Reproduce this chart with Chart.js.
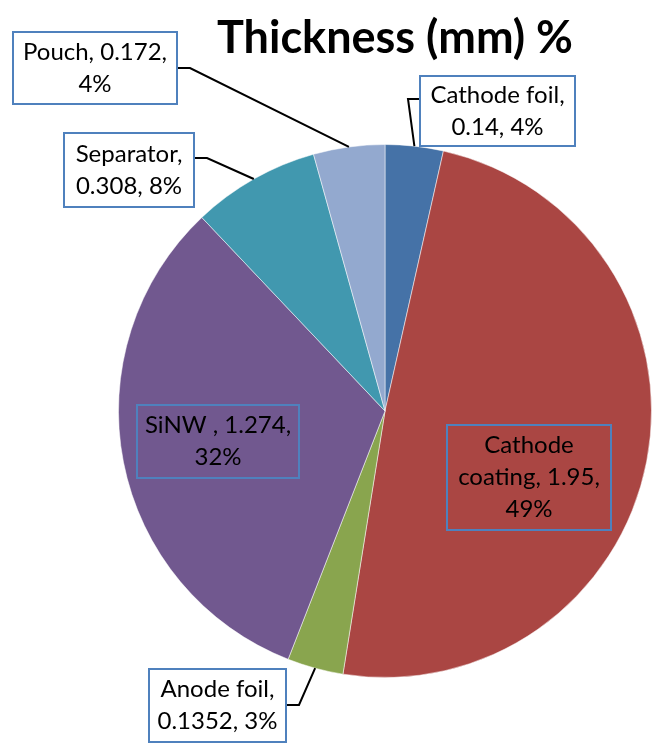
<!DOCTYPE html>
<html>
<head>
<meta charset="utf-8">
<script src="https://cdn.jsdelivr.net/npm/chart.js@4"></script>
<style>
  html, body { margin: 0; padding: 0; background: #fff; }
</style>
</head>
<body>
<canvas id="myChartpie" width="664" height="746"></canvas>
<script>
// Dati del grafico
var categories = ['Cathode foil', 'Cathode coating', 'Anode foil', 'SiNW ', 'Separator', 'Pouch'];
var thickness = [0.14, 1.95, 0.1352, 1.274, 0.308, 0.172];
var percentLabels = ['4%', '49%', '3%', '32%', '8%', '4%'];
var sliceColors = ['#4572A7', '#AA4643', '#89A54E', '#71588F', '#4198AF', '#93A9CF'];
var chartTitle = 'Thickness (mm) %';

// posizione delle etichette rispetto al centro della torta (px)
// box: [left, top, right, bottom], words: parole per riga, lead: y del connettore
var labelLayout = [
  { box: [35, -335, 190, -265], words: [2, 2], fill: '#fff', lead: -312 },
  { box: [62, 14, 226, 119], words: [1, 2, 1], fill: null },
  { box: [-236, 258, -99, 331], words: [2, 2], fill: '#fff', lead: 294 },
  { box: [-248, -6, -86, 67], words: [3, 1], fill: null },
  { box: [-321, -278, -191, -204], words: [1, 2], fill: '#fff', lead: -253 },
  { box: [-372, -379, -208, -307], words: [2, 1], fill: '#fff', lead: -343 }
];

var labelFont = '24px Lato';
var lineHeight = 32;

var labelPlugin = {
  id: 'excelLabels',
  afterDraw: function (chart) {
    var ctx = chart.ctx;
    var meta = chart.getDatasetMeta(0);

    // titolo
    ctx.save();
    ctx.fillStyle = '#000';
    ctx.font = 'bold 45px Lato';
    ctx.textAlign = 'center';
    ctx.textBaseline = 'alphabetic';
    ctx.fillText(chartTitle, 395, 53);
    ctx.restore();

    meta.data.forEach(function (arc, i) {
      var lay = labelLayout[i];
      var cx = arc.x, cy = arc.y;
      var l = cx + lay.box[0], t = cy + lay.box[1];
      var r = cx + lay.box[2], b = cy + lay.box[3];

      ctx.save();
      // connettore
      if (lay.lead !== undefined) {
        var mid = (arc.startAngle + arc.endAngle) / 2;
        var ax = cx + Math.cos(mid) * arc.outerRadius;
        var ay = cy + Math.sin(mid) * arc.outerRadius;
        var ly = cy + lay.lead;
        var sx, ex;
        if (ax < l) { sx = l; ex = l - 12; } else { sx = r; ex = r + 13; }
        ctx.strokeStyle = '#000';
        ctx.lineWidth = 2;
        ctx.beginPath();
        ctx.moveTo(sx, ly);
        ctx.lineTo(ex, ly);
        ctx.lineTo(ax, ay);
        ctx.stroke();
      }
      // riquadro
      if (lay.fill) {
        ctx.fillStyle = lay.fill;
        ctx.fillRect(l, t, r - l, b - t);
      }
      ctx.strokeStyle = '#4F81BD';
      ctx.lineWidth = 2;
      ctx.strokeRect(l, t, r - l, b - t);

      // testo
      var words = (categories[i] + ', ' + thickness[i] + ', ' + percentLabels[i]).split(' ');
      var lines = [], k = 0;
      lay.words.forEach(function (n) {
        lines.push(words.slice(k, k + n).join(' '));
        k += n;
      });
      ctx.fillStyle = '#000';
      ctx.font = labelFont;
      ctx.textAlign = 'center';
      ctx.textBaseline = 'middle';
      var y0 = (t + b) / 2 - (lines.length - 1) * lineHeight / 2;
      lines.forEach(function (s, j) {
        ctx.fillText(s, (l + r) / 2, y0 + j * lineHeight);
      });
      ctx.restore();
    });
  }
};

new Chart('myChartpie', {
  type: 'pie',
  data: {
    labels: categories,
    datasets: [{
      data: thickness,
      backgroundColor: sliceColors,
      borderColor: 'rgba(255,255,255,0.5)',
      borderWidth: 1
    }]
  },
  options: {
    responsive: false,
    animation: false,
    layout: { padding: { left: 118, right: 12, top: 144, bottom: 68 } },
    plugins: {
      legend: { display: false },
      tooltip: { enabled: false },
      title: { display: false }
    }
  },
  plugins: [labelPlugin]
});
</script>
</body>
</html>
